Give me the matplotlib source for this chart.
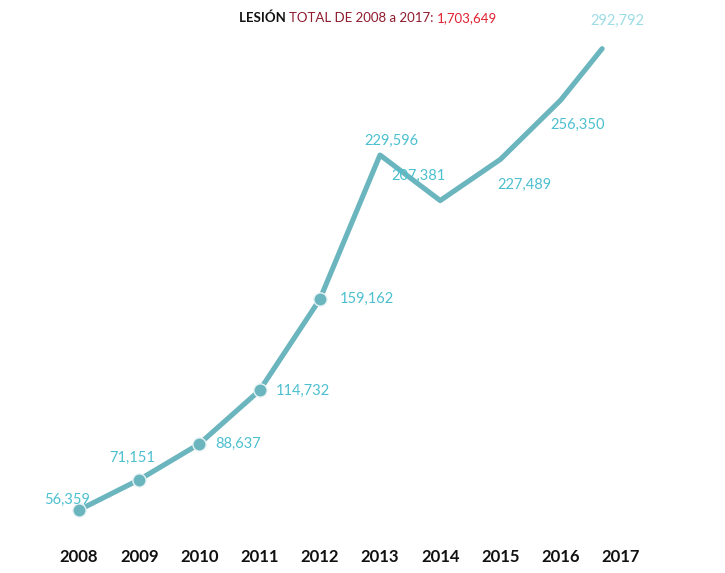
import matplotlib
matplotlib.use("Agg")
import matplotlib.pyplot as plt
import numpy as np

years = [2008, 2009, 2010, 2011, 2012, 2013, 2014, 2015, 2016, 2017]
values = [56359, 71151, 88637, 114732, 159162, 229596, 207381, 227489, 256350, 292792]
year_labels = [str(y) for y in years]
total_text = "1,703,649"

# style / layout
label_offsets_px = [(-12, 10, 'center'), (-7, 22, 'center'), (16, 0, 'left'), (16, 0, 'left'),
                    (20, 0, 'left'), (11, 14, 'center'), (-22, 25, 'center'), (24, -26, 'center'),
                    (17, -25, 'center'), (-3, 5, 'center')]
label_alpha = [1, 1, 1, 1, 1, 1, 1, 1, 1, 0.55]
n_markers = 5
progress = 0.69  # animation progress on last segment

LINE = '#6ab5be'
LBL = '#4cc0cf'

plt.rcParams['font.family'] = ['Lato', 'DejaVu Sans']
W, H = 725, 573
fig = plt.figure(figsize=(W / 100, H / 100), dpi=100)
ax_bottom_px = 38
ax = fig.add_axes([0, ax_bottom_px / H, 1, (H - ax_bottom_px) / H])

# scales (pixel mapping)
x0_px, dx_px = 79, 60.2
xmin = years[0] - x0_px / dx_px
xmax = years[0] + (W - x0_px) / dx_px
k = 0.002049
ref_px = 510
ymax = values[0] + ref_px / k
ymin = values[0] - (H - ax_bottom_px - ref_px) / k
ax.set_xlim(xmin, xmax)
ax.set_ylim(ymin, ymax)

# truncated line
xs = list(years[:-1])
ys = list(values[:-1])
xs.append(years[-2] + progress * (years[-1] - years[-2]))
ys.append(values[-2] + progress * (values[-1] - values[-2]))
ax.plot(xs, ys, color=LINE, lw=3.7, solid_joinstyle='round', solid_capstyle='round', zorder=2)
ax.plot(years[:n_markers], values[:n_markers], 'o', ms=9.5, color=LINE,
        markeredgecolor='#e8f3f4', markeredgewidth=1.0, zorder=3)

for i, (x, v) in enumerate(zip(years, values)):
    ox, oy, ha = label_offsets_px[i]
    ax.annotate(f"{v:,}", (x, v), xytext=(ox * 0.72, oy * 0.72), textcoords='offset points',
                ha=ha, va='center', fontsize=10.5, color=LBL, alpha=label_alpha[i])

ax.set_xticks(years)
ax.set_xticklabels(year_labels, fontsize=12, fontweight='bold', color='#111111')
ax.tick_params(axis='x', length=0, pad=10)
ax.set_yticks([])
for s in ax.spines.values():
    s.set_visible(False)

# title with multiple colours
t1 = fig.text(239 / W, 1 - 18 / H, "LESIÓN ", fontsize=9.5, fontweight='bold', color='#111111',
              ha='left', va='center')
t2 = ax.annotate("TOTAL DE 2008 a 2017: ", xy=(1, 0), xycoords=t1, va='bottom', ha='left',
                 fontsize=9.5, color='#8e1b2e', annotation_clip=False)
t3 = ax.annotate(total_text, xy=(1, 0), xycoords=t2, va='bottom', ha='left',
                 fontsize=9.5, color='#e02030', annotation_clip=False)

fig.savefig("out.png", dpi=100)
